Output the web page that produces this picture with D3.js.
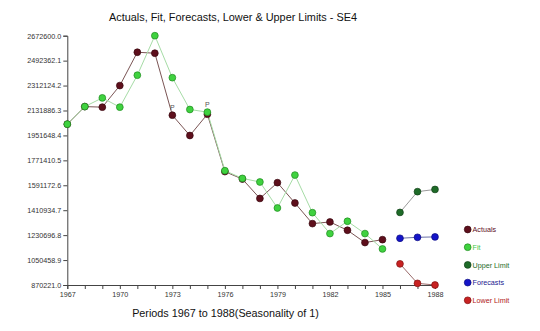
<!DOCTYPE html>
<html>
<head>
<meta charset="utf-8">
<script src="https://cdn.jsdelivr.net/npm/d3@7"></script>
<style>
  html, body { margin: 0; padding: 0; background: #fff; }
  svg { display: block; font-family: Arial, "Liberation Sans", sans-serif; }
</style>
</head>
<body>
<svg id="chart" width="540" height="331"></svg>
<script>
// ---- data ----
const years = d3.range(1967, 1989);
const actualYears = [1967,1968,1969,1970,1971,1972,1973,1974,1975,1976,1977,1978,1979,1980,1981,1982,1983,1984,1985];
const actuals = [2033000,2160000,2156000,2312000,2553000,2546000,2098000,1951000,2105000,1690000,1636000,1496000,1610000,1463000,1314000,1326000,1266000,1177000,1198000];
const fit     = [2033000,2160000,2223000,2156000,2387000,2672600,2369000,2139000,2120000,1697000,1641000,1615000,1427000,1665000,1393000,1242000,1331000,1242000,1131000];
const fcYears = [1986,1987,1988];
const upper     = [1395000,1545000,1561000];
const forecasts = [1208000,1215000,1218000];
const lower     = [1023000,882000,870221];
const pLabels = [1973, 1975];
const yTicks = [870221.0,1050458.9,1230696.8,1410934.7,1591172.6,1771410.5,1951648.4,2131886.3,2312124.2,2492362.1,2672600.0];
const xTickLabels = [1967,1970,1973,1976,1979,1982,1985,1988];
const legendNames = ["Actuals","Fit","Upper Limit","Forecasts","Lower Limit"];
const titleText = "Actuals, Fit, Forecasts, Lower & Upper Limits - SE4";
const xTitleText = "Periods 1967 to 1988(Seasonality of 1)";

// ---- styles ----
const colors = {
  actuals:  {fill:"#5e0f1c", stroke:"#3a0810", line:"#7b5555", text:"#5e0f1c"},
  fit:      {fill:"#3fd23f", stroke:"#1f8a1f", line:"#a6dca6", text:"#3fc83f"},
  upper:    {fill:"#1e6b28", stroke:"#124018", line:"#9a9a9a", text:"#1e6b28"},
  forecast: {fill:"#1414c8", stroke:"#0a0a80", line:"#6a70a8", text:"#1a1a90"},
  lower:    {fill:"#c82222", stroke:"#801010", line:"#9a6a6a", text:"#b02020"}
};

const svg = d3.select("#chart");
const x = d3.scaleLinear().domain([1967, 1988]).range([67.3, 435]);
const y = d3.scaleLinear().domain([870221, 2672600]).range([285, 35.7]);

// title
svg.append("text").attr("x", 233).attr("y", 20.5).attr("text-anchor", "middle")
  .attr("font-size", 10.9).attr("fill", "#111").text(titleText);
svg.append("text").attr("x", 225.5).attr("y", 317).attr("text-anchor", "middle")
  .attr("font-size", 10.8).attr("fill", "#111").text(xTitleText);

// y axis
const yAxis = d3.axisLeft(y).tickValues(yTicks).tickSize(4).tickPadding(2)
  .tickFormat(d => d.toFixed(1));
const gy = svg.append("g").attr("transform", `translate(${x(1967)},0)`).call(yAxis);
gy.select(".domain").attr("stroke", "#444");
gy.selectAll(".tick line").attr("stroke", "#444");
gy.selectAll(".tick text").attr("font-size", 7.2).attr("fill", "#333").attr("font-family", "Arial, 'Liberation Sans', sans-serif");

// x axis
const xAxis = d3.axisBottom(x).tickValues(years).tickSize(4).tickPadding(3)
  .tickFormat(d => xTickLabels.includes(d) ? String(d) : "");
const gx = svg.append("g").attr("transform", `translate(0,${y(870221)})`).call(xAxis);
gx.select(".domain").attr("stroke", "#444");
gx.selectAll(".tick line").attr("stroke", "#444");
gx.selectAll(".tick text").attr("font-size", 7.2).attr("fill", "#333").attr("font-family", "Arial, 'Liberation Sans', sans-serif");

const line = d3.line().x(d => x(d[0])).y(d => y(d[1]));
function drawSeries(xs, vs, c) {
  const pts = xs.map((xx, i) => [xx, vs[i]]);
  svg.append("path").attr("d", line(pts)).attr("fill", "none")
    .attr("stroke", c.line).attr("stroke-width", 1);
  return pts;
}
function drawMarkers(pts, c) {
  svg.append("g").selectAll("circle").data(pts).join("circle")
    .attr("cx", d => x(d[0])).attr("cy", d => y(d[1])).attr("r", 3.4)
    .attr("fill", c.fill).attr("stroke", c.stroke).attr("stroke-width", 0.7);
}

const aPts = drawSeries(actualYears, actuals, colors.actuals);
const fPts = drawSeries(actualYears, fit, colors.fit);
const uPts = drawSeries(fcYears, upper, colors.upper);
const cPts = drawSeries(fcYears, forecasts, colors.forecast);
const lPts = drawSeries(fcYears, lower, colors.lower);
drawMarkers(aPts, colors.actuals);
drawMarkers(fPts, colors.fit);
drawMarkers(uPts, colors.upper);
drawMarkers(cPts, colors.forecast);
drawMarkers(lPts, colors.lower);

// P labels
pLabels.forEach(yr => {
  const i = actualYears.indexOf(yr);
  const v = Math.max(actuals[i], fit[i]);
  svg.append("text").attr("x", x(yr)).attr("y", y(yr === 1973 ? actuals[i] : v) - 5)
    .attr("text-anchor", "middle").attr("font-size", 7).attr("fill", "#555").text("P");
});

// legend
const legKeys = ["actuals","fit","upper","forecast","lower"];
const leg = svg.append("g");
legendNames.forEach((name, i) => {
  const c = colors[legKeys[i]];
  const ly = 229.5 + i * 17.7;
  leg.append("circle").attr("cx", 467.7).attr("cy", ly).attr("r", 3.4)
    .attr("fill", c.fill).attr("stroke", c.stroke).attr("stroke-width", 0.7);
  leg.append("text").attr("x", 472.5).attr("y", ly + 2.7).attr("font-size", 7.2)
    .attr("fill", c.text).text(name);
});
</script>
</body>
</html>
